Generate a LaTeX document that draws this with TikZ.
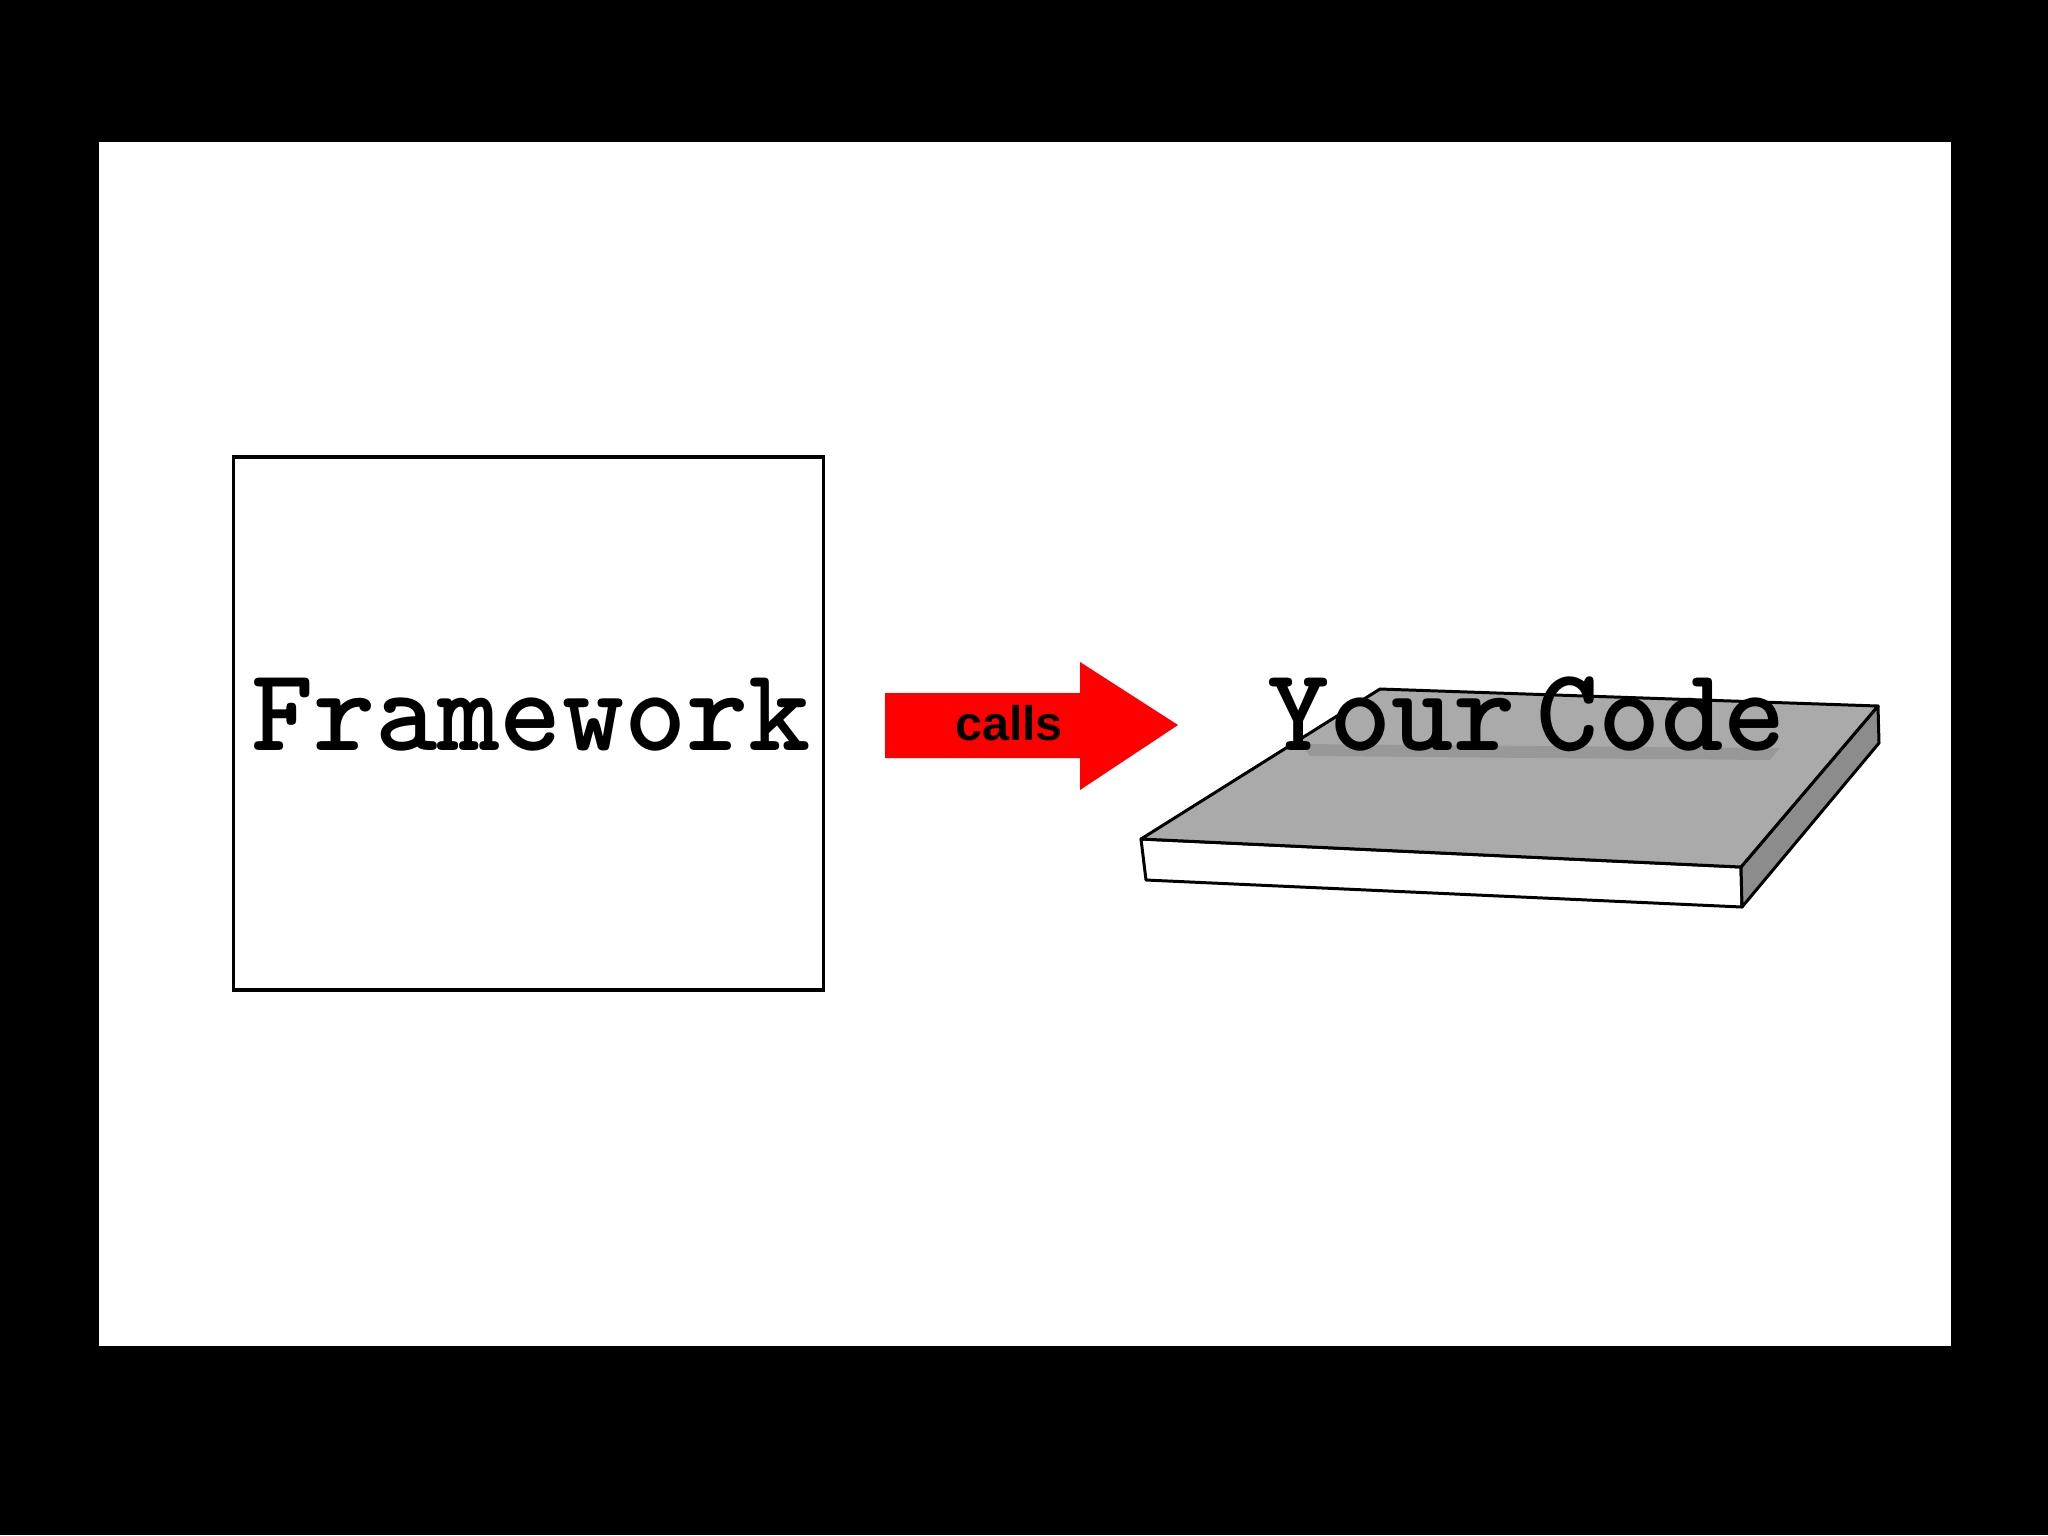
\documentclass[tikz,border=0pt]{standalone}
\usepackage{fontspec}
\setsansfont{Liberation Sans}
\definecolor{slabtop}{RGB}{170,170,170}
\definecolor{slabside}{RGB}{140,140,140}
\definecolor{arrowred}{RGB}{255,0,0}
\tikzset{
  typew/.style={font=\ttfamily\bfseries\fontsize{33.7}{40}\selectfont, inner sep=0pt, anchor=base, text=black},
  edge/.style={draw=black, line width=0.85pt, line join=round},
  fwbox/.style={draw=black, line width=0.035cm, fill=white, minimum width=5.895cm, minimum height=5.33cm, inner sep=0pt}
}
\begin{document}
\begin{tikzpicture}[x=0.01cm, y=-0.01cm]
\useasboundingbox (0,0) rectangle (2048,1535);
\fill[black] (0,0) rectangle (2048,1535);
\fill[white] (99,142) rectangle (1951,1346);

% Framework box
\node[fwbox] (fw) at (528.5,723.5) {};
\node[typew] (fwlabel) at (531,750) {Framework};

% calls arrow
\coordinate (a1) at (885,693);
\coordinate (a2) at (1080,693);
\coordinate (a3) at (1080,662);
\coordinate (a4) at (1178,725);
\coordinate (a5) at (1080,790);
\coordinate (a6) at (1080,758);
\coordinate (a7) at (885,758);
\fill[arrowred] (a1) -- (a2) -- (a3) -- (a4) -- (a5) -- (a6) -- (a7) -- cycle;
\node[font=\sffamily\bfseries\fontsize{13.8}{16}\selectfont, inner sep=0pt, anchor=base] (calls) at (1009,740) {calls};

% slab
\coordinate (A) at (1380,689);
\coordinate (B) at (1878,706);
\coordinate (C) at (1741,867);
\coordinate (D) at (1141,839);
\coordinate (E) at (1146,880);
\coordinate (F) at (1742,907);
\coordinate (G) at (1879,743);
\filldraw[edge, fill=white] (D) -- (C) -- (F) -- (E) -- cycle;
\filldraw[edge, fill=slabside] (C) -- (B) -- (G) -- (F) -- cycle;
\filldraw[edge, fill=slabtop] (A) -- (B) -- (C) -- (D) -- cycle;

% faint shadow band under the text
\fill[black, opacity=0.10] (1300,744) -- (1780,748) -- (1770,760) -- (1310,756) -- cycle;

\node[typew] (yc) at (1526.5,750) {Your\kern-0.35em\ Code};
\end{tikzpicture}
\end{document}
